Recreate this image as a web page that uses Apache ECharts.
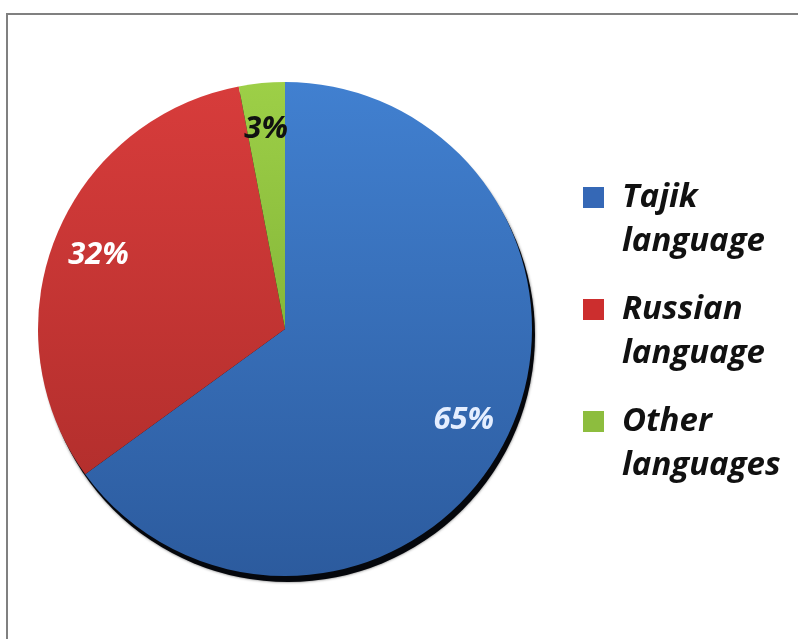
<!DOCTYPE html>
<html>
<head>
<meta charset="utf-8">
<script src="https://cdn.jsdelivr.net/npm/echarts@6/dist/echarts.min.js"></script>
<style>
  html, body { margin: 0; padding: 0; background: #ffffff; }
  #chart { width: 798px; height: 639px; }
</style>
</head>
<body>
<div id="chart"></div>
<script>
// Language shares (percent)
const categories = ['Tajik language', 'Russian language', 'Other languages'];
const shares = [65, 32, 3];

// Slice fills (top → bottom shading) and legend swatches
const sliceShades = [
  ['#4180d0', '#2c5b9e'],
  ['#d73c3b', '#b42f2d'],
  ['#9dcf47', '#86b83a']
];
const swatchColors = ['#3568b6', '#cc2e2e', '#8dbd3e'];
const labelColors = ['#e4eeff', '#ffffff', '#111111'];

const FONT = '"Open Sans", "DejaVu Sans", sans-serif';
const CX = 285, CY = 329, R = 247;

// Legend swatch: a 21px square sitting at the top of a 66px-tall icon box,
// so it lines up with the first line of the two-line legend text.
const SWATCH_ICON = 'path://M0,0H21V21H0Z M0,66L0.01,66';

const pieData = categories.map((name, i) => ({
  name: name,
  value: shares[i],
  itemStyle: {
    color: {
      type: 'linear', x: 0, y: 0, x2: 0, y2: 1,
      colorStops: [
        { offset: 0, color: sliceShades[i][0] },
        { offset: 1, color: sliceShades[i][1] }
      ]
    }
  }
}));

// Transparent ring carrying the percentage labels at ~80% of the radius
const labelData = categories.map((name, i) => ({
  name: name,
  value: shares[i],
  label: { color: labelColors[i] }
}));

const chart = echarts.init(document.getElementById('chart'), null, { renderer: 'canvas' });

chart.setOption({
  backgroundColor: '#ffffff',
  animation: false,
  graphic: [{
    type: 'rect',
    silent: true,
    z: -10,
    shape: { x: 7, y: 14, width: 840, height: 700 },
    style: { fill: 'none', stroke: '#808080', lineWidth: 2 }
  }],
  legend: {
    orient: 'vertical',
    left: 583,
    top: 176,
    padding: 0,
    itemWidth: 21,
    itemHeight: 66,
    itemGap: 24,
    icon: SWATCH_ICON,
    symbolKeepAspect: false,
    selectedMode: false,
    data: categories.map((name, i) => ({
      name: name,
      itemStyle: { color: swatchColors[i], borderWidth: 0 }
    })),
    formatter: (name) => name.replace(' ', '\n'),
    textStyle: {
      fontFamily: FONT,
      fontSize: 33,
      fontWeight: 'bold',
      fontStyle: 'italic',
      color: '#111111',
      lineHeight: 44,
      padding: [0, 0, 0, 13]
    }
  },
  series: [
    {
      // drop shadow beneath the pie
      type: 'pie',
      silent: true,
      center: [CX + 3, CY + 6],
      radius: R,
      z: 1,
      label: { show: false },
      labelLine: { show: false },
      legendHoverLink: false,
      data: [{ name: '', value: 1, itemStyle: { color: '#05070c', shadowBlur: 3, shadowColor: 'rgba(0,0,0,0.6)' } }],
      tooltip: { show: false }
    },
    {
      type: 'pie',
      center: [CX, CY],
      radius: R,
      startAngle: 90,
      clockwise: true,
      z: 2,
      avoidLabelOverlap: false,
      label: { show: false },
      labelLine: { show: false },
      itemStyle: { borderWidth: 0 },
      data: pieData
    },
    {
      type: 'pie',
      silent: true,
      center: [CX, CY],
      radius: [R * 0.6, R],
      startAngle: 90,
      clockwise: true,
      z: 3,
      legendHoverLink: false,
      avoidLabelOverlap: false,
      itemStyle: { color: 'rgba(0,0,0,0)', borderWidth: 0 },
      label: {
        show: true,
        position: 'inside',
        formatter: '{c}%',
        fontFamily: FONT,
        fontSize: 31,
        fontWeight: 'bold',
        fontStyle: 'italic'
      },
      labelLine: { show: false },
      data: labelData
    }
  ]
});
</script>
</body>
</html>
